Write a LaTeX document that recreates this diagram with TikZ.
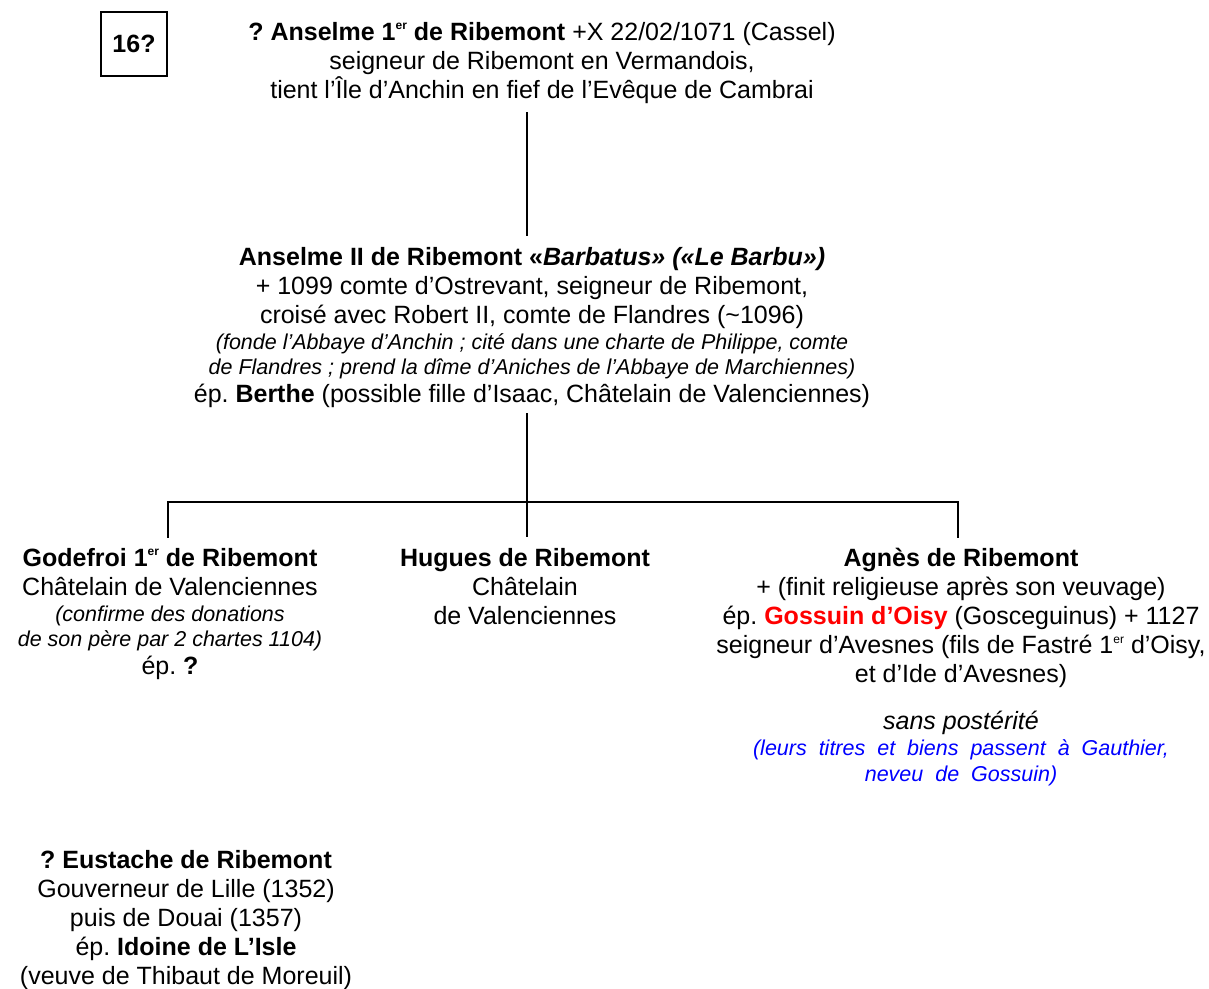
\documentclass[tikz,border=0pt]{standalone}
\usepackage{fontspec}
\setmainfont{Liberation Sans}
\frenchspacing
\definecolor{gred}{RGB}{255,0,0}
\definecolor{gblue}{RGB}{0,0,255}
\newcommand{\smit}[1]{{\fontsize{21.5}{25}\selectfont\itshape #1}}
\newcommand{\ersup}{\raisebox{0.42em}{\fontsize{12}{12}\selectfont er}}
\begin{document}
\begin{tikzpicture}[x=1pt,y=-1pt]
\useasboundingbox (0,0) rectangle (1209,988);
\tikzset{
  person/.style={align=center, inner sep=0pt, anchor=north, font=\fontsize{25}{29}\selectfont},
  link/.style={line width=2pt},
  genbox/.style={draw, line width=1.5pt, minimum width=66pt, minimum height=64pt, inner sep=0pt, font=\fontsize{25}{29}\selectfont\bfseries},
}
\node[genbox] (gen) at (134,44) {16?};

\node[person] (a1) at (542,22) {\textbf{? Anselme 1\ersup\ de Ribemont} +X 22/02/1071 (Cassel)\\
seigneur de Ribemont en Vermandois,\\
tient l’Île d’Anchin en fief de l’Evêque de Cambrai};

\node[person] (a2) at (532,247) {\textbf{Anselme II de Ribemont «\textit{Barbatus» («Le Barbu»)}}\\
+ 1099 comte d’Ostrevant, seigneur de Ribemont,\\
croisé avec Robert II, comte de Flandres (\textasciitilde1096)\\[-3pt]
\smit{(fonde l’Abbaye d’Anchin ; cité dans une charte de Philippe, comte}\\[-4pt]
\smit{de Flandres ; prend la dîme d’Aniches de l’Abbaye de Marchiennes)}\\[-1pt]
ép. \textbf{Berthe} (possible fille d’Isaac, Châtelain de Valenciennes)};

\node[person] (god) at (170,548) {\textbf{Godefroi 1\ersup\ de Ribemont}\\
Châtelain de Valenciennes\\[-3pt]
\smit{(confirme des donations}\\[-4pt]
\smit{de son père par 2 chartes 1104)}\\[-1pt]
ép. \textbf{?}};

\node[person] (hug) at (525,548) {\textbf{Hugues de Ribemont}\\
Châtelain\\
de Valenciennes};

\node[person] (agn) at (961,548) {\textbf{Agnès de Ribemont}\\
+ (finit religieuse après son veuvage)\\
ép. {\color{gred}\bfseries Gossuin d’Oisy} (Gosceguinus) + 1127\\
seigneur d’Avesnes (fils de Fastré 1\ersup\ d’Oisy,\\
et d’Ide d’Avesnes)};

\node[person, anchor=north] (sp) at (961,711) {\itshape sans postérité};
\node[person, anchor=north, text=gblue] (blue) at (961,739) {\smit{(leurs\ \ titres\ \ et\ \ biens\ \ passent\ \ à\ \ Gauthier,}\\[-3pt]
\smit{neveu\ \ de\ \ Gossuin)}};

\node[person] (eus) at (186,850) {\textbf{? Eustache de Ribemont}\\
Gouverneur de Lille (1352)\\
puis de Douai (1357)\\
ép. \textbf{Idoine de L’Isle}\\
(veuve de Thibaut de Moreuil)};

\coordinate (a1s) at (527,112);
\coordinate (a2n) at (527,236);
\coordinate (a2s) at (527,413);
\coordinate (fork) at (527,502);
\coordinate (godn) at (168,537);
\coordinate (hugn) at (527,537);
\coordinate (agnn) at (958,537);

\draw[link] (a1s) -- (a2n);
\draw[link] (a2s) -- (fork);
\draw[link, line cap=rect] (godn) |- (fork) -| (agnn);
\draw[link] (fork) -- (hugn);
\end{tikzpicture}
\end{document}
